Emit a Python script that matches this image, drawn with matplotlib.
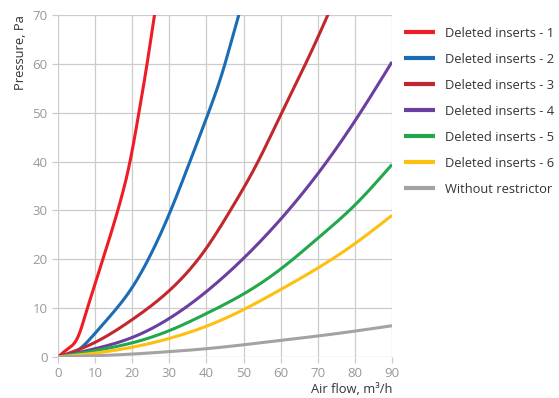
import matplotlib
matplotlib.use("Agg")
import matplotlib.pyplot as plt
import numpy as np

plt.rcParams['font.family'] = ['Open Sans', 'DejaVu Sans']

x1 = [0, 2.7, 4.9, 6, 7.2, 10, 13, 16.85, 19.4, 21.8, 24, 26, 26.6]
y1 = [0, 1.7, 3.4, 5.3, 8.2, 15, 22.2, 32, 40, 50, 60, 70, 73]
x2 = [0, 5.4, 9.7, 14.3, 19.7, 25, 30.1, 35.3, 40.3, 44.8, 48.7, 49.5]
y2 = [0, 1.4, 4.6, 8.6, 13.9, 21, 29.5, 39.5, 49.5, 59.5, 70, 72]
x3 = [0, 10, 19.7, 30, 40, 46.2, 53.9, 60.1, 66.7, 72.7, 73.5]
y3 = [0, 3.0, 7.5, 13.6, 22.3, 29.7, 40, 49.7, 60, 70, 71.4]
x4 = [0, 10, 20, 30, 40, 50, 60, 70, 80, 90]
y4 = [0, 1.7, 4.0, 7.9, 13.4, 20.2, 28.2, 37.5, 48.3, 60.4]
x5 = [0, 10, 20, 30, 40, 50, 60, 70, 80, 90]
y5 = [0, 1.3, 2.9, 5.4, 8.9, 12.9, 18.0, 24.3, 31.1, 39.4]
x6 = [0, 10, 20, 30, 40, 50, 60, 70, 80, 90]
y6 = [0, 0.8, 2.0, 3.8, 6.3, 9.7, 13.8, 18.2, 23.2, 29.0]
x7 = [0, 10, 20, 30, 40, 50, 60, 70, 80, 90]
y7 = [0, 0.25, 0.6, 1.1, 1.7, 2.5, 3.4, 4.3, 5.3, 6.4]

labels = ["Deleted inserts - 1", "Deleted inserts - 2", "Deleted inserts - 3",
          "Deleted inserts - 4", "Deleted inserts - 5", "Deleted inserts - 6",
          "Without restrictor"]
colors = ["#ee1c25", "#1a6db5", "#c1272d", "#6b3fa0", "#22a84a", "#fdc010", "#a3a3a3"]
series = [(x1, y1), (x2, y2), (x3, y3), (x4, y4), (x5, y5), (x6, y6), (x7, y7)]

def smooth(xs, ys):
    # natural cubic spline for smooth drawing through the read points
    xs = np.asarray(xs, float); ys = np.asarray(ys, float)
    n = len(xs)
    h = np.diff(xs)
    A = np.zeros((n, n)); b = np.zeros(n)
    A[0, 0] = 1; A[-1, -1] = 1
    for i in range(1, n - 1):
        A[i, i-1] = h[i-1]; A[i, i] = 2*(h[i-1] + h[i]); A[i, i+1] = h[i]
        b[i] = 3*((ys[i+1]-ys[i])/h[i] - (ys[i]-ys[i-1])/h[i-1])
    c = np.linalg.solve(A, b)
    bb = (ys[1:]-ys[:-1])/h - h*(2*c[:-1] + c[1:])/3
    d = (c[1:] - c[:-1])/(3*h)
    xx = np.linspace(xs[0], xs[-1], 400)
    idx = np.clip(np.searchsorted(xs, xx) - 1, 0, n - 2)
    t = xx - xs[idx]
    yy = ys[idx] + bb[idx]*t + c[idx]*t**2 + d[idx]*t**3
    return xx, yy

fig = plt.figure(figsize=(5.59, 3.98), dpi=100)
ax = fig.add_axes([58/559, 41/398, 334/559, 342/398])

for (xs, ys), c, lab in zip(series, colors, labels):
    xx, yy = smooth(xs, ys)
    ax.plot(xx, yy, color=c, lw=2.2, label=lab, solid_capstyle='butt', zorder=3)

ax.set_xlim(0, 90)
ax.set_ylim(0, 70)
ax.set_xticks(range(0, 91, 10))
ax.set_yticks(range(0, 71, 10))
ax.grid(True, color="#cccccc", lw=0.9, zorder=0)
for s in ax.spines.values():
    s.set_visible(False)
ax.tick_params(colors="#cccccc", labelcolor="#999999", labelsize=9.5, length=4, width=0.9)

ax.set_ylabel("Pressure, Pa", fontsize=9.3, color="#333333", loc='top', labelpad=4)
ax.set_xlabel("Air flow, m³/h", fontsize=9.3, color="#333333", loc='right', labelpad=2)

leg = ax.legend(loc='upper left', bbox_to_anchor=(1.02, 0.98), frameon=False,
                fontsize=9.3, handlelength=2.4, handletextpad=0.8, labelspacing=1.0,
                borderaxespad=0)
for t in leg.get_texts():
    t.set_color("#333333")
for l in leg.get_lines():
    l.set_linewidth(3)

fig.savefig("out.png", dpi=100)
